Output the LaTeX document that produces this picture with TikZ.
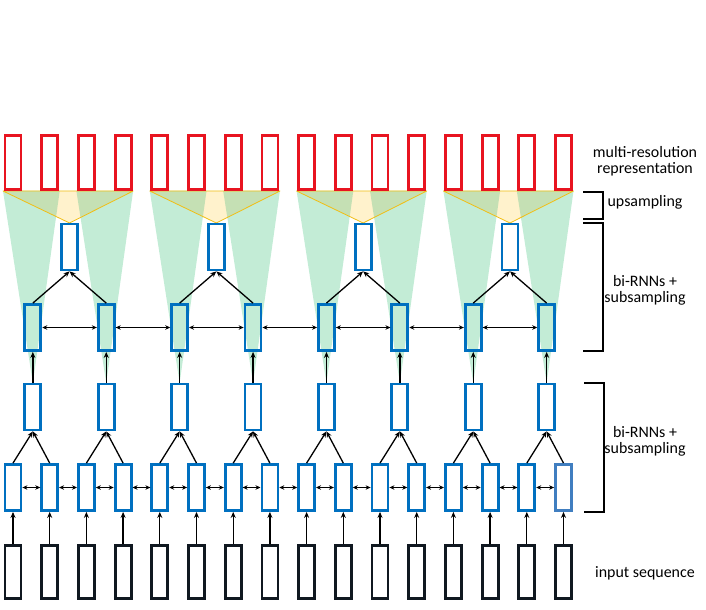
\documentclass[tikz,border=0pt]{standalone}
\usepackage{fontspec}
\setmainfont{Carlito}
\usetikzlibrary{arrows.meta}
\definecolor{boxblue}{RGB}{0,112,192}
\definecolor{boxblue2}{RGB}{64,126,192}
\definecolor{boxred}{RGB}{232,20,32}
\definecolor{boxblack}{RGB}{16,24,32}
\definecolor{mint}{RGB}{195,236,214}
\definecolor{olive}{RGB}{197,224,180}
\definecolor{pale}{RGB}{255,242,204}
\definecolor{gold}{RGB}{240,190,20}
\tikzset{
  cell/.style={draw, line width=2.8bp, minimum width=16bp, inner sep=0pt},
  redcell/.style={cell, draw=boxred, minimum height=54bp},
  incell/.style={cell, draw=boxblack, minimum height=53bp},
  bluecell/.style={cell, draw=boxblue, minimum height=46bp},
  arr/.style={-{Stealth[length=6bp,width=5bp]}, line width=1.3bp},
  darr/.style={{Stealth[length=5bp,width=4.5bp]}-{Stealth[length=5bp,width=4.5bp]}, line width=1bp},
  brk/.style={line width=1.4bp},
  lbl/.style={font=\fontsize{16}{16}\selectfont, align=center}
}
\begin{document}
\begin{tikzpicture}[x=1bp,y=-1bp]
\useasboundingbox (0,0) rectangle (706,610);
% green receptive-field triangles
\foreach \j in {0,...,7}{
  \pgfmathsetmacro\a{13+36.7*2*\j-10}
  \pgfmathsetmacro\b{13+36.7*(2*\j+1)+10}
  \pgfmathsetmacro\d{13+36.7*(2*\j+0.5)+1.5}
  \fill[mint] (\a,191) -- (\b,191) -- (\d,383) -- cycle;
}
% upsampling triangles
\foreach \k in {0,...,3}{
  \pgfmathsetmacro\a{13+36.7*4*\k-10}
  \pgfmathsetmacro\b{13+36.7*(4*\k+3)+10}
  \pgfmathsetmacro\e{13+36.7*(4*\k+1.5)+1.5}
  \fill[pale] (\a,191) -- (\b,191) -- (\e,223) -- cycle;
  \begin{scope}
    \clip (\a,191) -- (\b,191) -- (\e,223) -- cycle;
    \foreach \p in {0,1}{
      \pgfmathsetmacro\aa{13+36.7*(4*\k+2*\p)-10}
      \pgfmathsetmacro\bb{13+36.7*(4*\k+2*\p+1)+10}
      \pgfmathsetmacro\dd{13+36.7*(4*\k+2*\p+0.5)+1.5}
      \fill[olive] (\aa,191) -- (\bb,191) -- (\dd,383) -- cycle;
    }
  \end{scope}
  \draw[gold, line width=0.8bp, line join=round] (\a,191) -- (\b,191) -- (\e,223) -- cycle;
}
% boxes
\foreach \i in {0,...,15}{
  \pgfmathsetmacro\x{13+36.7*\i}
  \node[redcell] (r\i) at (\x,162.5) {};
  \node[incell] (in\i) at (\x,572) {};
}
\foreach \i in {0,...,14}{
  \pgfmathsetmacro\x{13+36.7*\i}
  \node[bluecell] (a\i) at (\x,487.5) {};
}
\node[bluecell, draw=boxblue2] (a15) at ({13+36.7*15},487.5) {};
\foreach \j in {0,...,7}{
  \pgfmathsetmacro\d{13+36.7*(2*\j+0.5)+1.5}
  \node[bluecell] (b\j) at (\d,407) {};
  \node[bluecell] (c\j) at (\d,327.5) {};
}
\foreach \k in {0,...,3}{
  \pgfmathsetmacro\e{13+36.7*(4*\k+1.5)+1.5}
  \node[bluecell] (t\k) at (\e,247) {};
}
% connectors
\foreach \i in {0,...,15}{
  \pgfmathtruncatemacro\j{\i/2}
  \draw[arr] (in\i.north) -- (a\i.south);
  \draw[arr] (a\i.north) -- (b\j.south);
}
\foreach \i [evaluate=\i as \n using int(\i+1)] in {0,...,14}{
  \draw[darr] (a\i.east) -- (a\n.west);
}
\foreach \j in {0,...,7}{
  \pgfmathtruncatemacro\k{\j/2}
  \draw[arr] (b\j.north) -- (c\j.south);
  \draw[arr] (c\j.north) -- (t\k.south);
}
\foreach \j [evaluate=\j as \n using int(\j+1)] in {0,...,6}{
  \draw[darr] (c\j.east) -- (c\n.west);
}
% brackets
\draw[brk] (583,192) -- (603,192) -- (603,219) -- (583,219);
\draw[brk] (583,223) -- (603,223) -- (603,351) -- (583,351);
\draw[brk] (584,383) -- (604,383) -- (604,512) -- (584,512);
% labels
\node[lbl] (lmr) at (645,161) {multi-resolution\\representation};
\node[lbl] (lup) at (645,202) {upsampling};
\node[lbl] (lb1) at (645,290) {bi-RNNs +\\subsampling};
\node[lbl] (lb2) at (645,441) {bi-RNNs +\\subsampling};
\node[lbl] (lin) at (645,573) {input sequence};
\end{tikzpicture}
\end{document}
